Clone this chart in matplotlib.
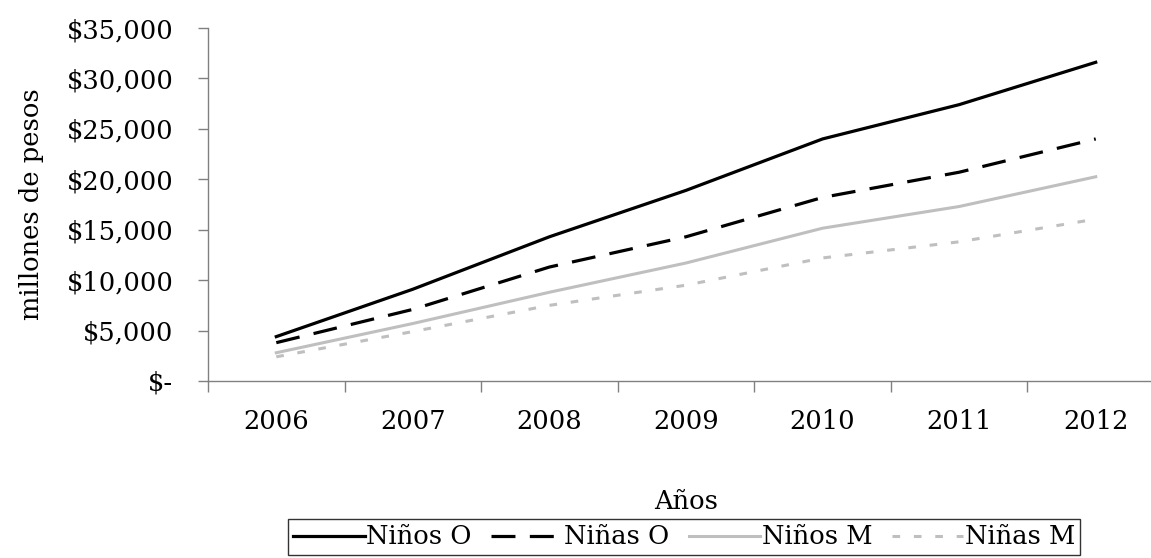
import matplotlib.pyplot as plt
from matplotlib.ticker import FuncFormatter

# datos (millones de pesos)
anios = ['2006', '2007', '2008', '2009', '2010', '2011', '2012']
ninos_o = [4400, 9100, 14300, 18900, 24000, 27400, 31600]
ninas_o = [3800, 7100, 11300, 14300, 18200, 20700, 24000]
ninos_m = [2800, 5700, 8800, 11700, 15150, 17300, 20250]
ninas_m = [2400, 4900, 7500, 9500, 12200, 13800, 16050]

plt.rcParams['font.family'] = 'DejaVu Serif'
plt.rcParams['font.size'] = 18.5

fig = plt.figure(figsize=(11.51, 5.58), dpi=100)
ax = fig.add_axes([208 / 1151, 177 / 558, 956 / 1151, 353 / 558])

x = list(range(len(anios)))
gris = '#bfbfbf'
ax.plot(x, ninos_o, color='black', lw=2.3, label='Niños O')
ax.plot(x, ninas_o, color='black', lw=2.3, linestyle=(0, (7.5, 4.5)),
        dash_capstyle='butt', label='Niñas O')
ax.plot(x, ninos_m, color=gris, lw=2.2, label='Niños M')
ax.plot(x, ninas_m, color=gris, lw=2.2, linestyle=(0, (2.5, 4.5)),
        dash_capstyle='butt', label='Niñas M')

ax.set_xlim(-0.5, 6.5)
ax.set_ylim(0, 35000)
ax.set_yticks(range(0, 35001, 5000))


def pesos(v, pos):
    if v == 0:
        return '$-'
    return '${:,.0f}'.format(v)


ax.yaxis.set_major_formatter(FuncFormatter(pesos))
ax.set_xticks(x)
ax.set_xticklabels(anios)
ax.set_xticks([i - 0.5 for i in range(len(anios) + 1)], minor=True)
ax.tick_params(axis='x', which='major', length=0, pad=20)
ax.tick_params(axis='x', which='minor', length=8, direction='out',
               color='#808080', width=1.0)
ax.tick_params(axis='y', length=7, direction='out', color='#808080',
               width=1.0, pad=18)

for s in ['top', 'right']:
    ax.spines[s].set_visible(False)
for s in ['left', 'bottom']:
    ax.spines[s].set_color('#808080')
    ax.spines[s].set_linewidth(1.0)

ax.set_ylabel('millones de pesos', labelpad=16)
ax.set_xlabel('Años', labelpad=40)

leg = fig.legend(loc='center', bbox_to_anchor=(684 / 1151, 21 / 558), ncol=4,
                 frameon=True, fancybox=False, handlelength=2.8,
                 handletextpad=0.05, columnspacing=0.75, borderpad=0.2,
                 borderaxespad=0)
leg.get_frame().set_edgecolor('black')
leg.get_frame().set_linewidth(1.0)

fig.savefig('out.png', dpi=100)
